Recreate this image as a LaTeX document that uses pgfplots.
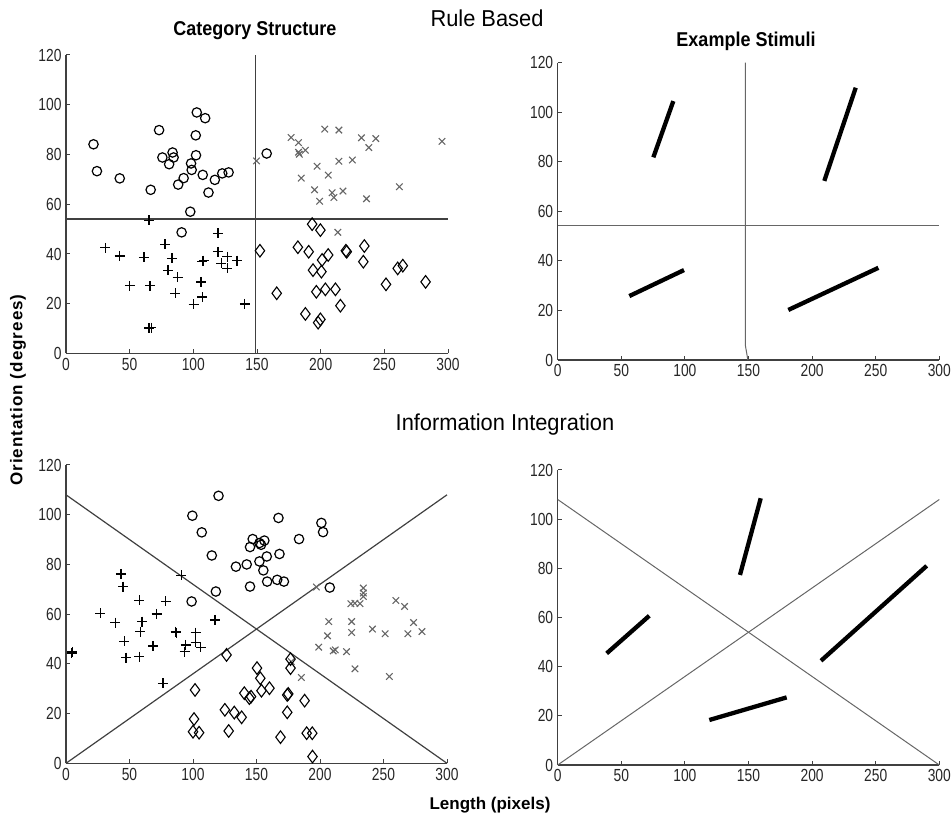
\documentclass[border=0pt]{standalone}
\usepackage{fontspec}
\setmainfont{Liberation Sans}
\newfontfamily\tickfont{Liberation Sans}[FakeStretch=0.79]
\newfontfamily\titlefont{Liberation Sans}[FakeStretch=0.95]
\newfontfamily\subfont{Liberation Sans}[FakeStretch=0.9]
\newfontfamily\labfont{Liberation Sans}[LetterSpace=6]
\usepackage{pgfplots}
\pgfplotsset{compat=1.18}
\definecolor{axgray}{HTML}{404040}
\definecolor{xgray}{HTML}{666666}
\pgfplotsset{
  mat/.style={
    scale only axis, clip=false,
    xmin=0, xmax=300, ymin=0, ymax=120,
    axis x line*=bottom, axis y line*=left,
    axis line style={-, line width=1.4pt, color=axgray},
    tick align=inside, major tick length=4pt,
    xtick={0,50,...,300}, ytick={0,20,...,120},
    tick style={line width=1pt, color=axgray},
    /pgf/number format/assume math mode=true,
    ticklabel style={font=\tickfont\fontsize{17.5}{17.5}\selectfont, text=black!85},
    xticklabel style={yshift=-1pt},
    yticklabel style={xshift=-1pt},
  },
  circ/.style={only marks, mark=o, mark size=4.7pt, mark options={line width=1.2pt, black}},
  plus/.style={only marks, mark=+, mark size=5pt, mark options={line width=1.3pt, black}},
  xm/.style={only marks, mark=x, mark size=4.6pt, mark options={line width=1.1pt, xgray}},
  diam/.style={only marks, mark=diamond, mark size=6.3pt, mark options={line width=1.1pt, black}},
  bound/.style={no marks, line width=1.4pt, color=axgray},
  thinb/.style={no marks, line width=1pt, color=black!60},
  stim/.style={no marks, line width=4.3pt, black},
}
\begin{document}
\begin{tikzpicture}
\path[use as bounding box] (0pt,0pt) rectangle (951pt,824pt);

% ---------------- Top left: Category Structure (rule based)
\begin{axis}[mat, at={(66pt,470.5pt)}, anchor=south west, width=382pt, height=298.5pt]
\addplot[bound] coordinates {(149,0) (149,120)};
\addplot[bound] coordinates {(0,54) (300,54)};
\addplot[circ] coordinates {(21.6,84.1) (24.3,73.3) (42.2,70.4) (66.5,65.8) (73.1,89.8) (75.7,78.8) (81,76.1) (83.7,80.8) (84.5,78.8) (88.1,67.9) (92.4,70.5) (98.2,76.4) (98.7,73.8) (101.9,87.7) (102.1,79.7) (102.7,96.9) (109.3,94.6) (107.4,71.8) (111.9,64.7) (116.9,69.8) (122.7,72.4) (127.7,72.8) (97.6,57) (90.8,48.7) (157.6,80.4)};
\addplot[plus] coordinates {(30.9,42.5) (42.2,39.2) (50.1,27.2) (61.2,38.6) (66,27.2) (65.2,10.2) (67,10.4) (77.8,43.9) (83.2,38.2) (80.2,33.4) (87.6,30.6) (85.8,24.2) (100.3,19.7) (106.1,28.8) (107.1,22.7) (108.2,37.3) (107,37) (119.3,48.3) (119.3,40.9) (121.9,36.2) (126.7,38.9) (126.7,34.2) (134.4,37.3) (140.4,19.9) (65.2,53.6)};
\addplot[xm] coordinates {(149.6,77.4) (176.8,86.8) (182.6,84.8) (182.6,80.9) (183.2,80.1) (188,81.7) (203.2,90.2) (214.3,89.8) (197.2,75.3) (205.9,71.7) (214.3,77.3) (224.9,77.8) (232,86.7) (243.3,86.4) (237.8,82.8) (295.3,85.3) (184.7,70.5) (195.2,65.8) (199.2,61.2) (209,64.6) (210.4,62.7) (217.5,65.3) (236,62.2) (261.8,67) (213.5,48.7)};
\addplot[diam] coordinates {(152.3,41.3) (165.5,24.2) (182.1,42.7) (188,15.9) (190.6,40.9) (193.3,52) (199.8,49.6) (194,33.5) (200.6,32.9) (201.1,37.6) (205.9,39.6) (196.6,24.8) (203.7,25.8) (211.6,25.8) (215.5,19.2) (198,12.4) (199.8,13.7) (219.8,41.3) (220.5,40.9) (234.3,43.2) (233.5,36.9) (251.3,27.8) (260.5,34.2) (264.5,35.3) (282.4,28.8)};
\end{axis}

% ---------------- Top right: Example Stimuli (rule based)
\begin{axis}[mat, at={(557.7pt,464pt)}, anchor=south west, width=381.6pt, height=297.3pt]
\addplot[thinb] coordinates {(147.5,120) (147.5,6) (149.5,0)};
\addplot[thinb] coordinates {(0,54.2) (300,54.2)};
\addplot[stim] coordinates {(75.2,81.8) (90.9,104.5)};
\addplot[stim] coordinates {(209.6,72.3) (234.3,109.9)};
\addplot[stim] coordinates {(56.3,25.8) (99.3,36.3)};
\addplot[stim] coordinates {(181.3,20.2) (252.1,37.2)};
\end{axis}

% ---------------- Bottom left: Category Structure (information integration)
\begin{axis}[mat, at={(66pt,60.7pt)}, anchor=south west, width=381pt, height=298.3pt]
\addplot[bound, line width=1.2pt] coordinates {(0,108) (300,0)};
\addplot[bound, line width=1.2pt] coordinates {(0,0) (300,108)};
\addplot[circ] coordinates {(120.1,107.6) (99.5,99.6) (106.9,92.9) (114.8,83.6) (133.8,79.1) (142.3,80) (144.9,71.1) (118,69.1) (98.9,65.1) (147,90.2) (144.9,87) (167.3,98.7) (201.1,96.7) (202.4,93) (183.5,90.2) (156.2,89.6) (153.6,87.9) (168.1,84.2) (158.1,83.2) (152.3,81.2) (155.4,77.6) (158.4,73.1) (166.3,73.8) (171.6,73.1) (207.7,70.7) (152.3,88.6)};
\addplot[plus] coordinates {(43.3,76.2) (44.9,71.1) (57.8,65.5) (78.6,65.1) (90.8,75.6) (26.9,60.4) (71.3,60.1) (38.8,56.6) (59.9,57) (58.6,53) (86.3,53) (87,52.6) (102.1,52.6) (117.4,57.7) (45.9,49) (47.3,42.5) (57.8,42.9) (68.6,47.2) (94.2,47.6) (93.4,44.9) (102.1,48.6) (106.1,46.6) (4.5,44.3) (5,44.8) (76.3,32.2)};
\addplot[xm] coordinates {(224.3,64.2) (227.5,64.4) (231.5,64.2) (259.7,65.5) (266.6,63.1) (206.9,57) (224.9,57) (224.9,52.6) (205.9,51.3) (241.3,54) (251.3,52.1) (269.2,52.1) (273.7,56.6) (280.3,53) (199,46.7) (210.4,45.2) (212,45.6) (220.9,44.9) (227.5,38) (254.6,34.9) (185.3,34.5) (177.4,40.9) (197.2,70.9) (234.1,70.5) (234.1,68.5) (234.1,67.1)};
\addplot[diam] coordinates {(126.4,43.6) (101.6,29.5) (100.8,17.8) (100,12.7) (104.8,12.3) (125.1,21.5) (132.5,20.4) (138.3,18.5) (128.1,13) (140.4,28.2) (144.4,26.2) (150.4,38.3) (153,34.2) (160.2,30.2) (153.9,29.2) (145.7,26.8) (176.8,41.9) (176.8,38.3) (174.2,27.5) (175,27.9) (187.9,25.2) (174.2,20.5) (168.9,10.5) (189.5,12.1) (193.9,12.1) (194.1,2.7)};
\end{axis}

% ---------------- Bottom right: Example Stimuli (information integration)
\begin{axis}[mat, at={(557.7pt,59pt)}, anchor=south west, width=381.6pt, height=295pt]
\addplot[thinb] coordinates {(0,108) (300,0)};
\addplot[thinb] coordinates {(0,0) (300,108)};
\addplot[stim] coordinates {(38.5,45.4) (72,60.7)};
\addplot[stim] coordinates {(143.3,77.3) (159.6,108.5)};
\addplot[stim] coordinates {(207,42.4) (290.1,81)};
\addplot[stim] coordinates {(119.2,18.3) (180,27.5)};
\end{axis}

% ---------------- Titles and labels
\node[font=\titlefont\fontsize{23}{23}\selectfont] at (487pt,806pt) {Rule Based};
\node[font=\subfont\bfseries\fontsize{20}{20}\selectfont] at (255pt,793pt) {Category Structure};
\node[font=\subfont\bfseries\fontsize{20}{20}\selectfont] at (746pt,783pt) {Example Stimuli};
\node[font=\titlefont\fontsize{23}{23}\selectfont] at (505pt,399pt) {Information Integration};
\node[font=\bfseries\fontsize{17}{17}\selectfont] at (490pt,19pt) {Length (pixels)};
\node[font=\labfont\bfseries\fontsize{17}{17}\selectfont, rotate=90] at (18pt,434pt) {Orientation (degrees)};
\end{tikzpicture}
\end{document}
